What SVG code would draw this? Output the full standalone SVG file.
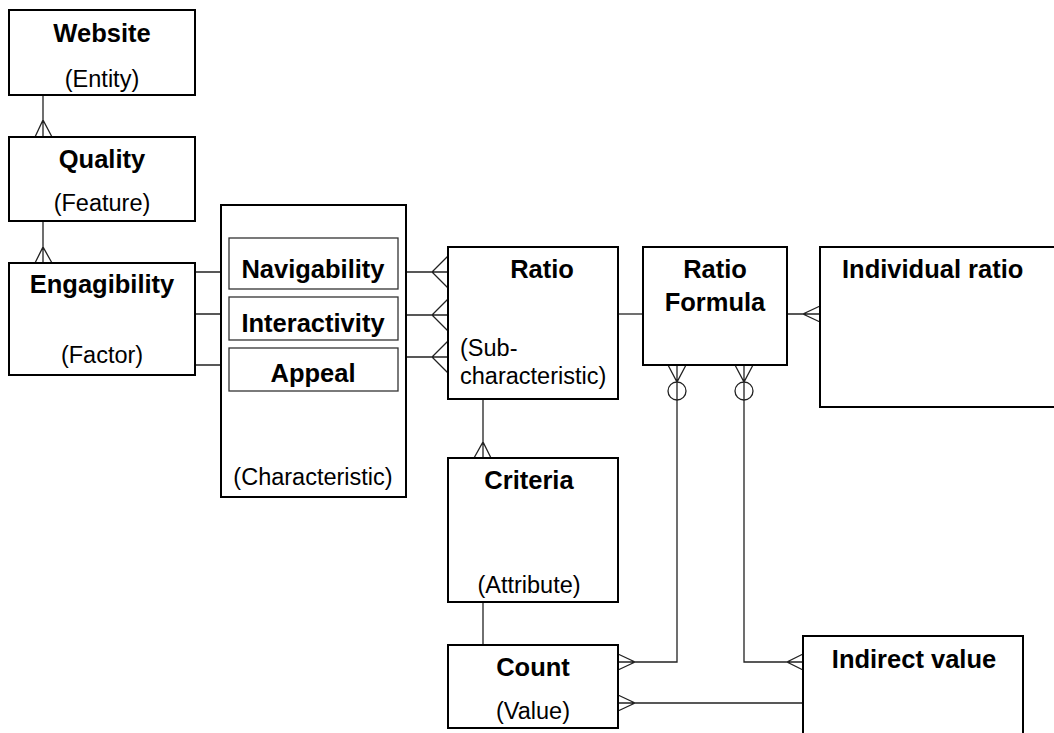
<svg xmlns="http://www.w3.org/2000/svg" width="1054" height="733" viewBox="0 0 1054 733">
  <style>
    .box { fill: #fff; stroke: #000; stroke-width: 2; }
    .inner { fill: #fff; stroke: #333; stroke-width: 1.3; }
    .t { font-family: "Liberation Sans", Arial, sans-serif; font-weight: bold; font-size: 25.5px; fill: #000; }
    .s { font-family: "Liberation Sans", Arial, sans-serif; font-size: 23.5px; fill: #000; }
    .c { text-anchor: middle; }
    .ln { fill: none; stroke: #222; stroke-width: 1.3; }
  </style>
  <rect width="1054" height="733" fill="#fff"/>

  <!-- connectors and crow's-foot ends -->
  <g id="connectors" class="ln">
    <!-- Website - Quality -->
    <path d="M43 95V137M35 137L43 120L52 137"/>
    <!-- Quality - Engagibility -->
    <path d="M43 221V263M35 263L43 247L52 263"/>
    <!-- Engagibility - Characteristic -->
    <path d="M195 272H221M195 314H221M195 365H221"/>
    <!-- Characteristic items - Ratio -->
    <path d="M398 272H448M448 256L432 272L448 288"/>
    <path d="M398 315H448M448 299L432 315L448 331"/>
    <path d="M398 357H448M448 341L432 357L448 373"/>
    <!-- Ratio - Ratio Formula -->
    <path d="M618 314H643"/>
    <!-- Ratio Formula - Individual ratio -->
    <path d="M787 314H820M820 306L803 314L820 322"/>
    <!-- Ratio - Criteria -->
    <path d="M483 399V458M474 458L483 442L491 458"/>
    <!-- Criteria - Count -->
    <path d="M483 602V645"/>
    <!-- Ratio Formula - Count -->
    <path d="M677 365V662H618M668 365L677 382L686 365M618 654L635 662L618 670"/>
    <circle cx="677" cy="391" r="9"/>
    <!-- Ratio Formula - Indirect value -->
    <path d="M744 365V662H803M735 365L744 382L753 365M803 654L787 662L803 670"/>
    <circle cx="744" cy="391" r="9"/>
    <!-- Count - Indirect value -->
    <path d="M618 703H803M618 695L635 703L618 711"/>
  </g>

  <g id="website">
    <rect class="box" x="9" y="10" width="186" height="85"/>
    <text class="t c" x="102" y="42">Website</text>
    <text class="s c" x="102" y="87">(Entity)</text>
  </g>

  <g id="quality">
    <rect class="box" x="9" y="137" width="186" height="84"/>
    <text class="t c" x="102" y="168">Quality</text>
    <text class="s c" x="102" y="211">(Feature)</text>
  </g>

  <g id="engagibility">
    <rect class="box" x="9" y="263" width="186" height="112"/>
    <text class="t c" x="102" y="293">Engagibility</text>
    <text class="s c" x="102" y="363">(Factor)</text>
  </g>

  <g id="characteristic">
    <rect class="box" x="221" y="205" width="185" height="292"/>
    <rect class="inner" x="229" y="238" width="169" height="51"/>
    <text class="t c" x="313" y="278">Navigability</text>
    <rect class="inner" x="229" y="297" width="169" height="43"/>
    <text class="t c" x="313" y="332">Interactivity</text>
    <rect class="inner" x="229" y="348" width="169" height="43"/>
    <text class="t c" x="313" y="382">Appeal</text>
    <text class="s c" x="313" y="485">(Characteristic)</text>
  </g>

  <g id="ratio">
    <rect class="box" x="448" y="247" width="170" height="152"/>
    <text class="t c" x="542" y="278">Ratio</text>
    <text class="s" x="460" y="356">(Sub-</text>
    <text class="s" x="460" y="384">characteristic)</text>
  </g>

  <g id="ratio-formula">
    <rect class="box" x="643" y="247" width="144" height="118"/>
    <text class="t c" x="715" y="278">Ratio</text>
    <text class="t c" x="715" y="311">Formula</text>
  </g>

  <g id="individual-ratio">
    <rect class="box" x="820" y="247" width="250" height="160"/>
    <text class="t" x="842" y="278">Individual ratio</text>
  </g>

  <g id="criteria">
    <rect class="box" x="448" y="458" width="170" height="144"/>
    <text class="t c" x="529" y="489">Criteria</text>
    <text class="s c" x="529" y="593">(Attribute)</text>
  </g>

  <g id="count">
    <rect class="box" x="448" y="645" width="170" height="83"/>
    <text class="t c" x="533" y="676">Count</text>
    <text class="s c" x="533" y="719">(Value)</text>
  </g>

  <g id="indirect-value">
    <rect class="box" x="803" y="636" width="220" height="110"/>
    <text class="t c" x="914" y="668">Indirect value</text>
  </g>
</svg>
